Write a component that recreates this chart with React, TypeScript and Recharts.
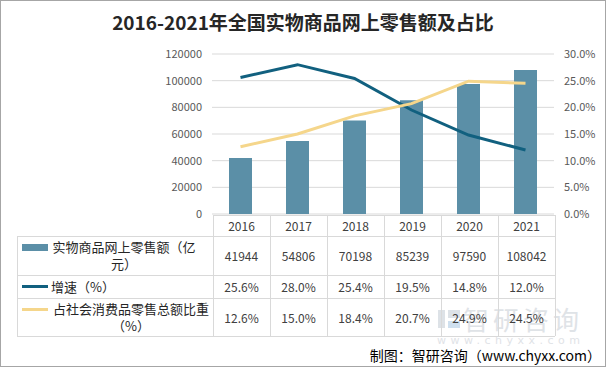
import React from 'react';
import { ComposedChart, Bar, Line, XAxis, YAxis, CartesianGrid } from 'recharts';

const years = ['2016', '2017', '2018', '2019', '2020', '2021'];
const salesValues = [41944, 54806, 70198, 85239, 97590, 108042];
const growthRates = [25.6, 28.0, 25.4, 19.5, 14.8, 12.0];
const shareRates = [12.6, 15.0, 18.4, 20.7, 24.9, 24.5];
const leftTicks = [0, 20000, 40000, 60000, 80000, 100000, 120000];
const rightTicks = [0, 5, 10, 15, 20, 25, 30];

const FONT = '"Noto Sans CJK SC", "Noto Sans", sans-serif';
const BAR_COLOR = '#5b8fa7';
const GROWTH_COLOR = '#11607f';
const SHARE_COLOR = '#f5d68b';
const BORDER = '#d9d9d9';

const data = years.map((year, i) => ({
  year,
  sales: salesValues[i],
  growth: growthRates[i],
  share: shareRates[i],
}));

// table geometry (matches the plot band)
const PLOT_LEFT = 212;
const COL_W = 57;
const TABLE_LEFT = 16;
const TABLE_RIGHT = PLOT_LEFT + COL_W * years.length;
const ROW_Y = [214, 235, 274, 297, 335];

const pct = (v: number) => `${v.toFixed(1)}%`;

const tableRows = [
  { key: 'bar', color: BAR_COLOR, lines: ['实物商品网上零售额（亿', '元）'], values: salesValues.map(String), labelLeft: 51, labelW: 144 },
  { key: 'line', color: GROWTH_COLOR, lines: ['增速（%）'], values: growthRates.map(pct), labelLeft: 50, labelW: 0 },
  { key: 'line', color: SHARE_COLOR, lines: ['占社会消费品零售总额比重', '（%）'], values: shareRates.map(pct), labelLeft: 52, labelW: 156 },
];

const abs = (style: React.CSSProperties): React.CSSProperties => ({ position: 'absolute', ...style });

const DataTable = () => {
  const els: React.ReactNode[] = [];
  // horizontal lines
  ROW_Y.forEach((y, i) => {
    const left = i === 0 ? PLOT_LEFT : TABLE_LEFT;
    els.push(<div key={`h${i}`} style={abs({ left, top: y, width: TABLE_RIGHT - left, height: 1, background: BORDER })} />);
  });
  // vertical lines
  els.push(<div key="vl" style={abs({ left: TABLE_LEFT, top: ROW_Y[1], width: 1, height: ROW_Y[4] - ROW_Y[1], background: BORDER })} />);
  for (let i = 0; i <= years.length; i++) {
    els.push(<div key={`v${i}`} style={abs({ left: PLOT_LEFT + COL_W * i, top: ROW_Y[0], width: 1, height: ROW_Y[4] - ROW_Y[0], background: BORDER })} />);
  }
  // year row
  years.forEach((y, i) => {
    els.push(
      <div key={`y${i}`} style={abs({ left: PLOT_LEFT + COL_W * i, top: ROW_Y[0], width: COL_W, height: ROW_Y[1] - ROW_Y[0], display: 'flex', alignItems: 'center', justifyContent: 'center', fontSize: 12, color: '#404040' })}>{y}</div>
    );
  });
  tableRows.forEach((row, r) => {
    const top = ROW_Y[r + 1];
    const h = ROW_Y[r + 2] - top;
    const multi = row.lines.length > 1;
    const firstY = multi ? top + 11 : top + h / 2;
    els.push(
      <div key={`k${r}`} style={abs({ left: 21, top: firstY - (row.key === 'bar' ? 3 : 1.5), width: 26, height: row.key === 'bar' ? 7 : 3, background: row.color })} />
    );
    els.push(
      <div key={`l${r}`} style={abs({ left: row.labelLeft, top: firstY - 9, width: multi ? row.labelW : undefined, fontSize: 13, lineHeight: '17px', color: '#262626', textAlign: multi ? 'center' : 'left' })}>
        {row.lines.map((t, j) => <div key={j} style={{ whiteSpace: 'nowrap' }}>{t}</div>)}
      </div>
    );
    row.values.forEach((v, i) => {
      els.push(
        <div key={`c${r}-${i}`} style={abs({ left: PLOT_LEFT + COL_W * i, top, width: COL_W, height: h, display: 'flex', alignItems: 'center', justifyContent: 'center', fontSize: 12, color: '#404040' })}>{v}</div>
      );
    });
  });
  return <>{els}</>;
};

export default function App() {
  return (
    <div style={abs({ left: 0, top: 0, width: 606, height: 367, boxSizing: 'border-box', border: '1px solid #a6a6a6', background: '#fff', fontFamily: FONT, overflow: 'hidden' })}>
      <div style={abs({ left: -1, top: 9, width: 606, textAlign: 'center', fontSize: 19, fontWeight: 'bold', lineHeight: '24px', color: '#262626' })}>
        2016-2021年全国实物商品网上零售额及占比
      </div>
      {/* watermark, behind the table */}
      <div style={abs({ left: 437, top: 309, width: 7, height: 18, background: '#dde2e7' })} />
      <div style={abs({ left: 447, top: 309, width: 12, height: 8, background: '#dde2e7' })} />
      <div style={abs({ left: 447, top: 320, width: 12, height: 7, background: '#cfe0ef' })} />
      <div style={abs({ left: 462, top: 301, fontSize: 26, lineHeight: '34px', color: '#dfe3e7', letterSpacing: 4, whiteSpace: 'nowrap' })}>智研咨询</div>
      <div style={abs({ left: 436, top: 333, fontSize: 11, lineHeight: '14px', color: '#dfe3e7', letterSpacing: 4.5, whiteSpace: 'nowrap', fontFamily: '"DejaVu Sans", sans-serif' })}>www.chyxx.com</div>
      <div style={abs({ left: -1, top: -1 })}>
        <ComposedChart width={606} height={367} data={data} margin={{ top: 54, right: 0, bottom: 153, left: 0 }} barCategoryGap="60%">
          <CartesianGrid vertical={false} stroke={BORDER} yAxisId="left" />
          <XAxis dataKey="year" hide />
          <YAxis
            yAxisId="left"
            width={212}
            domain={[0, 120000]}
            ticks={leftTicks}
            axisLine={false}
            tickLine={false}
            tickMargin={4}
            tick={{ fontSize: 11, fill: '#595959', fontFamily: FONT }}
          />
          <YAxis
            yAxisId="right"
            orientation="right"
            width={52}
            domain={[0, 30]}
            ticks={rightTicks}
            axisLine={false}
            tickLine={false}
            tickMargin={4}
            tickFormatter={pct}
            tick={{ fontSize: 11, fill: '#595959', fontFamily: FONT }}
          />
          <Bar yAxisId="left" dataKey="sales" fill={BAR_COLOR} barSize={23} isAnimationActive={false} />
          <Line yAxisId="right" dataKey="growth" stroke={GROWTH_COLOR} strokeWidth={3} dot={false} type="linear" isAnimationActive={false} />
          <Line yAxisId="right" dataKey="share" stroke={SHARE_COLOR} strokeWidth={3} dot={false} type="linear" isAnimationActive={false} />
        </ComposedChart>
      </div>
      <DataTable />
      <div style={abs({ right: 4, top: 344, fontSize: 14, lineHeight: '20px', color: '#000', whiteSpace: 'nowrap' })}>制图：智研咨询（www.chyxx.com）</div>
    </div>
  );
}
